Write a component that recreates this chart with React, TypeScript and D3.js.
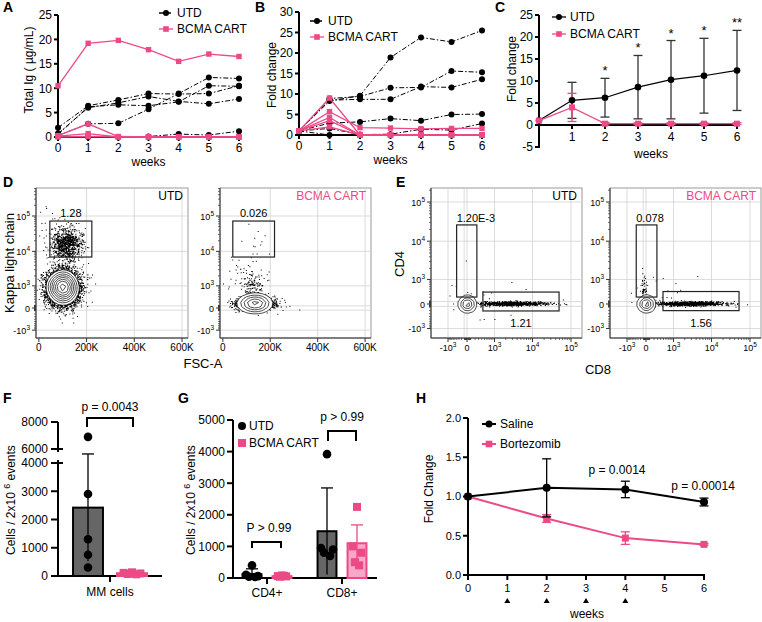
import React from 'react';
import * as d3 from 'd3';

const PINK = '#ec4a87';
const PINK_SOFT = '#f6a8c6';
const BAR_GRAY = '#666666';
const FONT = "'Liberation Sans', Arial, Helvetica, sans-serif";

const weeks = [0, 1, 2, 3, 4, 5, 6];

// A: total Ig (µg/mL), one row per mouse
const igUTD = [
  [1.9, 6.4, 7.6, 8.9, 8.8, 8.9, 10.5],
  [0.7, 6.0, 7.0, 8.3, 7.3, 6.8, 7.8],
  [0.5, 6.2, 6.6, 6.4, 7.2, 10.5, 10.4],
  [0.3, 2.7, 2.8, 5.7, 8.9, 12.2, 12.0],
  [0.2, 0.0, 0.0, 0.1, 0.6, 0.4, 1.2],
];
const igCART = [
  [10.5, 19.2, 19.8, 17.9, 15.5, 17.0, 16.5],
  [0.3, 2.7, 0.1, 0.0, 0.0, 0.0, 0.0],
  [0.2, 0.7, 0.0, 0.0, 0.0, 0.0, 0.0],
  [0.0, 0.1, 0.0, 0.0, 0.0, 0.0, 0.0],
];

// B: fold change per mouse
const foldUTD = [
  [1, 8.3, 9.6, 18.9, 23.8, 22.7, 25.5],
  [1, 8.9, 9.4, 11.5, 11.6, 15.6, 15.3],
  [1, 8.5, 8.7, 8.7, 11.8, 11.6, 13.6],
  [1, 2.9, 3.2, 4.0, 3.5, 5.0, 5.1],
  [1, 1.6, 0.1, 0.2, 1.4, 1.2, 2.8],
  [1, 0.0, 0.0, 0.0, 0.0, 0.0, 0.0],
];
const foldCART = [
  [1, 9.0, 0.0, 0.0, 0.0, 0.0, 0.0],
  [1, 5.7, 1.8, 1.7, 1.5, 1.6, 1.6],
  [1, 4.3, 0.0, 0.0, 0.0, 0.0, 0.0],
  [1, 3.5, 0.0, 0.0, 0.0, 0.0, 0.0],
  [1, 2.0, 0.0, 0.0, 0.0, 0.0, 0.0],
];

// C: mean +/- SD
const cMeanUTD = [1, 5.6, 6.2, 8.6, 10.3, 11.2, 12.4];
const cSdUTD = [0, 4.1, 4.4, 7.2, 8.9, 8.5, 9.1];
const cMeanCART = [1, 4.0, 0.3, 0.3, 0.3, 0.3, 0.3];
const cSdCART = [0, 3.2, 0.3, 0.2, 0.2, 0.2, 0.2];
const cStars = ['', '', '*', '*', '*', '*', '**'];

// D/E: flow gates and event clouds (centres in raw channel values, spreads in display units)
const biexTicks = [-1000, 0, 1000, 10000, 100000];
const fscTicks = [0, 200000, 400000, 600000];
const fscLabels = ['0', '200K', '400K', '600K'];
const dGateUTD = { x0: 46000, x1: 222000, y0: 6900, y1: 72000, label: '1.28' };
const dGateCART = { x0: 42000, x1: 218000, y0: 6900, y1: 72000, label: '0.026' };
const eGatesUTD = [
  { x0: -410, x1: 250, y0: 210, y1: 26000, label: '1.20E-3', pos: 'topleft' },
  { x0: 440, x1: 49000, y0: -210, y1: 380, label: '1.21', pos: 'bottom' },
];
const eGatesCART = [
  { x0: -380, x1: 280, y0: 210, y1: 26000, label: '0.078', pos: 'topleft' },
  { x0: 480, x1: 52000, y0: -200, y1: 400, label: '1.56', pos: 'bottom' },
];
const dCloudUTD = [
  { n: 4500, x: 100000, sx: 34000, y: 900, sy: 0.6 },
  { n: 800, x: 115000, sx: 33000, y: 16000, sy: 0.5 },
  { n: 60, x: 100000, sx: 45000, y: 40000, sy: 0.9 },
];
const dCloudCART = [
  { n: 1800, x: 135000, sx: 40000, y: 150, sy: 0.2 },
  { n: 170, x: 125000, sx: 28000, y: 800, sy: 0.5 },
  { n: 40, x: 80000, sx: 40000, y: 3000, sy: 0.9 },
  { n: 10, x: 140000, sx: 40000, y: 15000, sy: 0.6 },
];
const eCloudUTD = [
  { n: 1400, x: 0, sx: 0.16, y: 0, sy: 0.11 },
  { n: 900, x: 3000, sx: 1.0, y: 20, sy: 0.06 },
  { n: 25, x: 500, sx: 1.5, y: 300, sy: 0.8 },
];
const eCloudCART = [
  { n: 1400, x: 0, sx: 0.16, y: 0, sy: 0.11 },
  { n: 1100, x: 3000, sx: 1.0, y: 20, sy: 0.06 },
  { n: 50, x: -80, sx: 0.12, y: 500, sy: 0.4 },
  { n: 20, x: 500, sx: 1.5, y: 300, sy: 0.8 },
];

// F: MM cells per 2x10^6 events
const fGroups = ['UTD', 'BCMA CART'];
const fMeans = [2420, 100];
const fSd = [1900, 30];
const fPts = [[6900, 2900, 1300, 750, 300], [130, 110, 90, 70, 60]];

// G: CD4+/CD8+ per 2x10^6 events
const gGroups = ['CD4+', 'CD8+'];
const gArms = ['UTD', 'BCMA CART'];
const gMeans = [[120, 60], [1480, 1100]];
const gSd = [[170, 20], [1370, 580]];
const gPts = [
  [[400, 100, 60, 40, 30], [80, 60, 50, 40, 70]],
  [[3920, 950, 900, 800, 700], [2250, 1000, 800, 500, 400]],
];

// H: fold change, saline vs bortezomib
const hWeeks = [0, 2, 4, 6];
const hSaline = [1.0, 1.11, 1.09, 0.93];
const hSalineSd = [0, 0.37, 0.105, 0.05];
const hBort = [1.0, 0.72, 0.47, 0.39];
const hBortSd = [0, 0.05, 0.08, 0.012];
const hDoses = [1, 2, 3, 4];

const jit = [0, -6, 6, -3, 3];

const Letter = ({ x, y, t }: any) => (
  <text x={x} y={y} fontSize={14} fontWeight="bold">{t}</text>
);

function YAxis({ x, y, ticks, from, to, fmt = (v: number) => String(v), fs = 12, len = 4, sw = 2 }: any) {
  return (
    <g>
      <line x1={x} x2={x} y1={from} y2={to} stroke="#000" strokeWidth={sw} />
      {ticks.map((t: number) => (
        <g key={t}>
          <line x1={x - len} x2={x} y1={y(t)} y2={y(t)} stroke="#000" strokeWidth={sw} />
          <text x={x - len - 2} y={y(t)} dy="0.36em" textAnchor="end" fontSize={fs}>{fmt(t)}</text>
        </g>
      ))}
    </g>
  );
}

function XAxis({ y, x, ticks, from, to, labelY, fmt = (v: number) => String(v), fs = 12, len = 4, sw = 2 }: any) {
  return (
    <g>
      <line x1={from} x2={to} y1={y} y2={y} stroke="#000" strokeWidth={sw} />
      {ticks.map((t: number) => (
        <g key={t}>
          <line x1={x(t)} x2={x(t)} y1={y} y2={y + len} stroke="#000" strokeWidth={sw} />
          <text x={x(t)} y={labelY} textAnchor="middle" fontSize={fs}>{fmt(t)}</text>
        </g>
      ))}
    </g>
  );
}

function LegendItem({ x, y, color, shape, label, dash, sw = 1.3, r = 3 }: any) {
  return (
    <g>
      <line x1={x} x2={x + 14} y1={y} y2={y} stroke={color} strokeWidth={sw} strokeDasharray={dash} />
      {shape === 'circle'
        ? <circle cx={x + 7} cy={y} r={r} fill={color} />
        : <rect x={x + 7 - r} y={y - r} width={2 * r} height={2 * r} fill={color} />}
      <text x={x + 18} y={y} dy="0.36em" fontSize={12}>{label}</text>
    </g>
  );
}

function Spaghetti({ letter, lx, xr, yr, yMax, yTicks, utd, cart, yLabel, ylx, yly, legX, legY }: any) {
  const x = d3.scaleLinear([0, 6], xr);
  const y = d3.scaleLinear([0, yMax], yr);
  const line = d3.line<number>().x((_, i) => x(weeks[i])).y(d => y(d));
  return (
    <g>
      <Letter x={lx} y={12} t={letter} />
      <YAxis x={xr[0]} y={y} ticks={yTicks} from={yr[0] + 1} to={yr[1]} />
      <XAxis y={yr[0]} x={x} ticks={weeks} from={xr[0]} to={xr[1] + 1} labelY={yr[0] + 15} />
      <text x={(xr[0] + xr[1]) / 2} y={yr[0] + 29} textAnchor="middle" fontSize={12}>weeks</text>
      <text transform={`translate(${ylx},${yly}) rotate(-90)`} textAnchor="middle" fontSize={12}>{yLabel}</text>
      {utd.map((s: number[], k: number) => (
        <g key={'u' + k}>
          <path d={line(s)!} fill="none" stroke="#000" strokeWidth={1} strokeDasharray="5,2,1.5,2" />
          {s.map((v, i) => <circle key={i} cx={x(weeks[i])} cy={y(v)} r={3} fill="#000" />)}
        </g>
      ))}
      {cart.map((s: number[], k: number) => (
        <g key={'c' + k}>
          <path d={line(s)!} fill="none" stroke={PINK} strokeWidth={1.3} />
          {s.map((v, i) => <rect key={i} x={x(weeks[i]) - 2.7} y={y(v) - 2.7} width={5.4} height={5.4} fill={PINK} />)}
        </g>
      ))}
      <LegendItem x={legX} y={legY} color="#000" shape="circle" label="UTD" dash="5,2" />
      <LegendItem x={legX} y={legY + 16} color={PINK} shape="square" label="BCMA CART" r={2.8} />
    </g>
  );
}

function PanelC() {
  const x = d3.scaleLinear([0, 6], [539, 737]);
  const y = d3.scaleLinear([-5, 25], [147, 15]);
  const line = d3.line<number>().x((_, i) => x(weeks[i])).y(d => y(d));
  const errs = (m: number[], s: number[], color: string) =>
    m.map((v, i) => s[i] > 0 && (
      <g key={i} stroke={color} strokeWidth={1.3}>
        <line x1={x(weeks[i])} x2={x(weeks[i])} y1={y(v - s[i])} y2={y(v + s[i])} />
        <line x1={x(weeks[i]) - 4.5} x2={x(weeks[i]) + 4.5} y1={y(v + s[i])} y2={y(v + s[i])} />
        <line x1={x(weeks[i]) - 4.5} x2={x(weeks[i]) + 4.5} y1={y(v - s[i])} y2={y(v - s[i])} />
      </g>
    ));
  return (
    <g>
      <Letter x={495} y={12} t="C" />
      <YAxis x={539} y={y} ticks={[-5, 0, 5, 10, 15, 20, 25]} from={y(-5) + 1} to={y(25)} />
      <XAxis y={y(0)} x={x} ticks={[1, 2, 3, 4, 5, 6]} from={539} to={738} labelY={y(0) + 16} />
      <text x={651} y={158} textAnchor="middle" fontSize={12}>weeks</text>
      <text transform="translate(516,69) rotate(-90)" textAnchor="middle" fontSize={12}>Fold change</text>
      {errs(cMeanUTD, cSdUTD, '#333')}
      {errs(cMeanCART, cSdCART, PINK)}
      <path d={line(cMeanUTD)!} fill="none" stroke="#000" strokeWidth={1.2} />
      {cMeanUTD.map((v, i) => <circle key={i} cx={x(weeks[i])} cy={y(v)} r={3.3} fill="#000" />)}
      <path d={line(cMeanCART)!} fill="none" stroke={PINK} strokeWidth={1.3} />
      {cMeanCART.map((v, i) => <rect key={i} x={x(weeks[i]) - 3} y={y(v) - 3} width={6} height={6} fill={PINK} />)}
      {cStars.map((s, i) => s && (
        <text key={i} x={x(weeks[i])} y={y(cMeanUTD[i] + cSdUTD[i]) - 3} textAnchor="middle" fontSize={13}>{s}</text>
      ))}
      <LegendItem x={552} y={17} color="#000" shape="circle" label="UTD" />
      <LegendItem x={552} y={34} color={PINK} shape="square" label="BCMA CART" r={2.8} />
    </g>
  );
}

// ---------- flow plots ----------
function makeCloud(spec: any[], tx: (v: number) => number, ty: (v: number) => number, seed: number) {
  const src = d3.randomLcg(seed);
  return spec.map(c => {
    const gx = d3.randomNormal.source(src)(tx(c.x), c.sx);
    const gy = d3.randomNormal.source(src)(ty(c.y), c.sy);
    return d3.range(c.n).map(() => [gx(), gy()] as [number, number]);
  });
}

const Pow = ({ v }: any) => v === 0 ? <>0</> : (
  <>{v < 0 ? '-' : ''}10<tspan dy={-4} fontSize={6.5}>{Math.round(Math.log10(Math.abs(v)))}</tspan></>
);

function minorBiex() {
  const out: number[] = [];
  for (let e = 1; e <= 5; e++) for (let m = 2; m <= 9; m++) out.push(m * 10 ** e);
  for (let e = 1; e <= 2; e++) for (let m = 2; m <= 9; m++) out.push(-m * 10 ** e);
  return out;
}

function FlowPlot({ id, L, R, T, B, tx, sx, ty, sy, xTicks, xLabels, xBiex, gridX, gridY, cloud, seed, bw, frac, levels, gates, title, titleColor }: any) {
  const px = (v: number) => sx(tx(v));
  const py = (v: number) => sy(ty(v));
  const pops = makeCloud(cloud, tx, ty, seed);
  const dots = pops.flat().map(([u, v]) => `M${sx(u).toFixed(1)},${sy(v).toFixed(1)}h1v1h-1z`).join('');
  const main = pops[0].map(([u, v]) => [sx(u) - L, sy(v) - T] as [number, number]);
  const density = d3.contourDensity<[number, number]>()
    .x(p => p[0]).y(p => p[1]).size([R - L, B - T]).bandwidth(bw);
  const probe = density.thresholds(60)(main);
  const maxV = d3.max(probe, c => c.value) || 1;
  const kept = density.thresholds(d3.range(levels).map(i => maxV * (frac + (0.95 - frac) * i / (levels - 1))))(main);
  const geo = d3.geoPath();
  const minors = minorBiex();
  return (
    <g>
      <defs><clipPath id={id}><rect x={L} y={T} width={R - L} height={B - T} /></clipPath></defs>
      <rect x={L} y={T} width={R - L} height={B - T} fill="#fff" stroke="#999" strokeWidth={1} />
      {gridX.map((v: number) => <line key={'gx' + v} x1={px(v)} x2={px(v)} y1={T} y2={B} stroke="#d2d2d2" strokeWidth={0.8} />)}
      {gridY.map((v: number) => <line key={'gy' + v} x1={L} x2={R} y1={py(v)} y2={py(v)} stroke="#d2d2d2" strokeWidth={0.8} />)}
      <g clipPath={`url(#${id})`}>
        <path d={dots} fill="#000" />
        <g transform={`translate(${L},${T})`}>
          {kept.map((c, i) => (
            <path key={i} d={geo(c as any)!} fill={i === 0 ? '#fff' : 'none'} stroke="#000" strokeWidth={0.7} />
          ))}
        </g>
      </g>
      {gates.map((g: any, i: number) => {
        const x0 = px(g.x0), x1 = px(g.x1), y0 = py(g.y1), y1 = py(g.y0);
        return (
          <g key={i}>
            <rect x={x0} y={y0} width={x1 - x0} height={y1 - y0} fill="none" stroke="#222" strokeWidth={1.2} />
            {g.pos === 'bottom'
              ? <text x={(x0 + x1) / 2} y={y1 + 16} textAnchor="middle" fontSize={11}>{g.label}</text>
              : g.pos === 'topleft'
                ? <text x={x0} y={y0 - 3} fontSize={11}>{g.label}</text>
                : <text x={(x0 + x1) / 2} y={y0 - 4} textAnchor="middle" fontSize={11}>{g.label}</text>}
          </g>
        );
      })}
      <text x={R - 5} y={T + 12} textAnchor="end" fontSize={12} fill={titleColor}>{title}</text>
      {/* left axis */}
      <line x1={L} x2={L} y1={T} y2={B} stroke="#333" strokeWidth={1} />
      {minors.filter(v => py(v) > T && py(v) < B).map(v => (
        <line key={'my' + v} x1={L - 2} x2={L} y1={py(v)} y2={py(v)} stroke="#333" strokeWidth={0.7} />
      ))}
      {biexTicks.map(v => (
        <g key={'y' + v}>
          <line x1={L - 4} x2={L} y1={py(v)} y2={py(v)} stroke="#333" strokeWidth={1} />
          <text x={L - 6} y={py(v) + 3.5} textAnchor="end" fontSize={9}><Pow v={v} /></text>
        </g>
      ))}
      {/* bottom axis */}
      <line x1={L} x2={R} y1={B} y2={B} stroke="#333" strokeWidth={1} />
      {xBiex && minors.filter(v => px(v) > L && px(v) < R).map(v => (
        <line key={'mx' + v} x1={px(v)} x2={px(v)} y1={B} y2={B + 2} stroke="#333" strokeWidth={0.7} />
      ))}
      {xTicks.map((v: number, i: number) => (
        <g key={'x' + v}>
          <line x1={px(v)} x2={px(v)} y1={B} y2={B + 4} stroke="#333" strokeWidth={1} />
          <text x={px(v)} y={B + 13} textAnchor="middle" fontSize={xBiex ? 9 : 10}>
            {xBiex ? <Pow v={v} /> : xLabels[i]}
          </text>
        </g>
      ))}
    </g>
  );
}

function PanelD() {
  const tx = (v: number) => v;
  const ty = (v: number) => Math.asinh(v / 500);
  const sy = d3.scaleLinear([0, ty(1e5)], [308, 216]);
  const common = { T: 188, B: 338, tx, ty, sy, xTicks: fscTicks, xLabels: fscLabels, xBiex: false, bw: 3,
    gridX: [200000, 400000, 600000], gridY: [-1000, -70, 70, 1000, 10000, 100000] };
  return (
    <g>
      <Letter x={3} y={187} t="D" />
      <FlowPlot id="d1" L={36} R={188} sx={d3.scaleLinear([-12000, 625000], [36, 188])} {...common}
        cloud={dCloudUTD} seed={0.11} frac={0.25} levels={8} gates={[dGateUTD]} title="UTD" titleColor="#000" />
      <FlowPlot id="d2" L={220} R={371} sx={d3.scaleLinear([-12000, 625000], [220, 371])} {...common}
        cloud={dCloudCART} seed={0.37} frac={0.25} levels={5} gates={[dGateCART]} title="BCMA CART" titleColor={PINK} />
      <text transform="translate(14,263) rotate(-90)" textAnchor="middle" fontSize={13}>Kappa light chain</text>
      <text x={203} y={368} textAnchor="middle" fontSize={13}>FSC-A</text>
    </g>
  );
}

function PanelE() {
  const tx = (v: number) => Math.asinh(v / 400);
  const ty = (v: number) => Math.asinh(v / 500);
  const sy = d3.scaleLinear([0, ty(1e5)], [304, 202]);
  const sx1 = d3.scaleLinear([tx(-1000), 0, tx(1e5)], [448, 467, 571]);
  const sx2 = d3.scaleLinear([tx(-1000), 0, tx(1e5)], [627, 646, 750]);
  const common = { T: 188, B: 338, tx, ty, sy, xTicks: biexTicks, xLabels: [], xBiex: true, bw: 1.8, frac: 0.2, levels: 4,
    gridX: [-1000, -100, 0, 1000, 10000, 100000], gridY: [-1000, -70, 70, 1000, 10000, 100000] };
  return (
    <g>
      <Letter x={396} y={187} t="E" />
      <FlowPlot id="e1" L={431} R={582} sx={sx1} {...common}
        cloud={eCloudUTD} seed={0.53} gates={eGatesUTD} title="UTD" titleColor="#000" />
      <FlowPlot id="e2" L={610} R={761} sx={sx2} {...common}
        cloud={eCloudCART} seed={0.71} gates={eGatesCART} title="BCMA CART" titleColor={PINK} />
      <text transform="translate(404,264) rotate(-90)" textAnchor="middle" fontSize={13}>CD4</text>
      <text x={598} y={374} textAnchor="middle" fontSize={13}>CD8</text>
    </g>
  );
}

const CellsLabel = ({ x }: any) => (
  <text transform={`translate(${x},500) rotate(-90)`} textAnchor="middle" fontSize={12}>
    Cells / 2x10 <tspan dy={-5} fontSize={9}>6</tspan><tspan dy={5}> events</tspan>
  </text>
);

function PanelF() {
  const yLo = d3.scaleLinear([0, 4000], [576, 463]);
  const yHi = d3.scaleLinear([6000, 8000], [449, 422]);
  const y = (v: number) => (v > 5000 ? yHi(v) : yLo(v));
  const band = d3.scaleBand(fGroups, [66, 154]).paddingInner(0.32).paddingOuter(0.16);
  const bw = band.bandwidth();
  return (
    <g>
      <Letter x={3} y={403} t="F" />
      <CellsLabel x={15} />
      {/* broken y axis */}
      <line x1={58} x2={58} y1={577} y2={yLo(4000) - 3} stroke="#000" strokeWidth={2} />
      <line x1={58} x2={58} y1={yHi(6000) + 3} y2={yHi(8000)} stroke="#000" strokeWidth={2} />
      {[0, 1000, 2000, 3000, 4000].map(t => (
        <g key={t}>
          <line x1={51} x2={t === 4000 ? 63 : 58} y1={yLo(t)} y2={yLo(t)} stroke="#000" strokeWidth={2} />
          <text x={48} y={yLo(t)} dy="0.36em" textAnchor="end" fontSize={12}>{t}</text>
        </g>
      ))}
      {[6000, 8000].map(t => (
        <g key={t}>
          <line x1={51} x2={t === 6000 ? 63 : 58} y1={yHi(t)} y2={yHi(t)} stroke="#000" strokeWidth={2} />
          <text x={48} y={yHi(t)} dy="0.36em" textAnchor="end" fontSize={12}>{t}</text>
        </g>
      ))}
      <line x1={57} x2={162} y1={576} y2={576} stroke="#000" strokeWidth={2} />
      <line x1={110} x2={110} y1={576} y2={582} stroke="#000" strokeWidth={2} />
      <text x={110} y={596} textAnchor="middle" fontSize={12}>MM cells</text>
      {/* bars */}
      <rect x={band('UTD')!} y={y(fMeans[0])} width={bw} height={576 - y(fMeans[0])} fill={BAR_GRAY} stroke="#000" strokeWidth={2} />
      <rect x={band('BCMA CART')!} y={y(fMeans[1])} width={bw} height={576 - y(fMeans[1])} fill={PINK} stroke={PINK} strokeWidth={2} />
      {fGroups.map((g, i) => {
        const cx = band(g)! + bw / 2;
        const c = i === 0 ? '#000' : PINK;
        return (
          <g key={g} stroke={c} strokeWidth={1.3}>
            <line x1={cx} x2={cx} y1={y(fMeans[i] - fSd[i])} y2={y(fMeans[i] + fSd[i])} />
            <line x1={cx - 6} x2={cx + 6} y1={y(fMeans[i] + fSd[i])} y2={y(fMeans[i] + fSd[i])} />
          </g>
        );
      })}
      {fPts[0].map((v, i) => <circle key={i} cx={band('UTD')! + bw / 2} cy={y(v)} r={4.3} fill="#000" />)}
      {fPts[1].map((v, i) => <rect key={i} x={band('BCMA CART')! + bw / 2 + jit[i] * 1.4 - 4} y={y(v) - 4} width={8} height={8} fill={PINK} />)}
      {/* significance */}
      <path d="M87,427V418H133V427" fill="none" stroke="#000" strokeWidth={2} />
      <text x={110} y={411} textAnchor="middle" fontSize={12}>p = 0.0043</text>
    </g>
  );
}

function PanelG() {
  const y = d3.scaleLinear([0, 5000], [578, 420]);
  const outer = d3.scaleBand(gGroups, [229.5, 379.5]);
  const inner = d3.scaleBand(gArms, [0, outer.bandwidth()]).paddingInner(0.37).paddingOuter(0.435);
  const bw = inner.bandwidth();
  return (
    <g>
      <Letter x={178} y={403} t="G" />
      <CellsLabel x={195} />
      <YAxis x={233} y={y} ticks={[0, 1000, 2000, 3000, 4000, 5000]} from={579} to={y(5000)} len={6} />
      <line x1={232} x2={377} y1={578} y2={578} stroke="#000" strokeWidth={2} />
      {gGroups.map(g => (
        <g key={g}>
          <line x1={outer(g)! + outer.bandwidth() / 2} x2={outer(g)! + outer.bandwidth() / 2} y1={578} y2={584} stroke="#000" strokeWidth={2} />
          <text x={outer(g)! + outer.bandwidth() / 2} y={597} textAnchor="middle" fontSize={12}>{g}</text>
        </g>
      ))}
      {gGroups.map((g, gi) => gArms.map((a, ai) => {
        const x0 = outer(g)! + inner(a)!;
        const cx = x0 + bw / 2;
        const m = gMeans[gi][ai], s = gSd[gi][ai];
        const isU = ai === 0;
        return (
          <g key={g + a}>
            <rect x={x0} y={y(m)} width={bw} height={578 - y(m)}
              fill={isU ? BAR_GRAY : (gi === 1 ? PINK_SOFT : PINK)} stroke={isU ? '#000' : PINK} strokeWidth={2} />
            <g stroke={isU ? '#000' : PINK} strokeWidth={1.3}>
              <line x1={cx} x2={cx} y1={y(Math.max(0, m - s))} y2={y(m + s)} />
              <line x1={cx - 6} x2={cx + 6} y1={y(m + s)} y2={y(m + s)} />
            </g>
            {gPts[gi][ai].map((v, i) => isU
              ? <circle key={i} cx={cx + jit[i]} cy={y(v)} r={4.3} fill="#000" />
              : <rect key={i} x={cx + jit[i] * 0.7 - 4} y={y(v) - 4} width={8} height={8} fill={PINK} />)}
          </g>
        );
      }))}
      {/* legend */}
      <circle cx={242} cy={426} r={4} fill="#000" />
      <text x={249} y={426} dy="0.36em" fontSize={12}>UTD</text>
      <rect x={238} y={439} width={8} height={8} fill={PINK} />
      <text x={249} y={443} dy="0.36em" fontSize={12}>BCMA CART</text>
      {/* significance */}
      <path d="M252,548V542H281V548" fill="none" stroke="#000" strokeWidth={2} />
      <text x={269} y={532} textAnchor="middle" fontSize={12}>P &gt; 0.99</text>
      <path d="M328,441V431H356V441" fill="none" stroke="#000" strokeWidth={2} />
      <text x={342} y={421} textAnchor="middle" fontSize={12}>p &gt; 0.99</text>
    </g>
  );
}

function PanelH() {
  const x = d3.scaleLinear([0, 6], [468, 704]);
  const y = d3.scaleLinear([0, 2], [575, 418]);
  const line = d3.line<number>().x((_, i) => x(hWeeks[i])).y(d => y(d));
  const errs = (m: number[], s: number[], color: string) => m.map((v, i) => s[i] > 0 && (
    <g key={i} stroke={color} strokeWidth={1.3}>
      <line x1={x(hWeeks[i])} x2={x(hWeeks[i])} y1={y(v - s[i])} y2={y(v + s[i])} />
      <line x1={x(hWeeks[i]) - 4.5} x2={x(hWeeks[i]) + 4.5} y1={y(v + s[i])} y2={y(v + s[i])} />
      <line x1={x(hWeeks[i]) - 4.5} x2={x(hWeeks[i]) + 4.5} y1={y(v - s[i])} y2={y(v - s[i])} />
    </g>
  ));
  return (
    <g>
      <Letter x={416} y={403} t="H" />
      <YAxis x={468} y={y} ticks={[0, 0.5, 1, 1.5, 2]} from={576} to={y(2)} fmt={d3.format('.1f')} fs={11} len={5} />
      <XAxis y={575} x={x} ticks={weeks} from={467} to={705} labelY={592} fs={11} len={5} />
      {hDoses.map(d => <path key={d} d={`M${x(d)},598l3,5h-6z`} fill="#000" />)}
      <text x={587} y={618} textAnchor="middle" fontSize={12}>weeks</text>
      <text transform="translate(433,489) rotate(-90)" textAnchor="middle" fontSize={12}>Fold  Change</text>
      {errs(hBort, hBortSd, PINK)}
      <path d={line(hBort)!} fill="none" stroke={PINK} strokeWidth={2} />
      {hBort.map((v, i) => <rect key={i} x={x(hWeeks[i]) - 3.5} y={y(v) - 3.5} width={7} height={7} fill={PINK} />)}
      {errs(hSaline, hSalineSd, '#000')}
      <path d={line(hSaline)!} fill="none" stroke="#000" strokeWidth={2} />
      {hSaline.map((v, i) => <circle key={i} cx={x(hWeeks[i])} cy={y(v)} r={4} fill="#000" />)}
      <text x={617} y={474} textAnchor="middle" fontSize={12}>p = 0.0014</text>
      <text x={703} y={490} textAnchor="middle" fontSize={12}>p = 0.00014</text>
      <LegendItem x={482} y={424} color="#000" shape="circle" label="Saline" sw={2} r={3.5} />
      <LegendItem x={482} y={444} color={PINK} shape="square" label="Bortezomib" sw={2} r={3.3} />
    </g>
  );
}

export default function App() {
  return (
    <svg width={762} height={622} style={{ position: 'absolute', left: 0, top: 0 }} fontFamily={FONT}>
      <rect width={762} height={622} fill="#fff" />
      <Spaghetti letter="A" lx={3} xr={[58, 239]} yr={[137, 15]} yMax={25} yTicks={[0, 5, 10, 15, 20, 25]}
        utd={igUTD} cart={igCART} yLabel="Total Ig ( µg/mL)" ylx={33} yly={70} legX={159} legY={13} />
      <Spaghetti letter="B" lx={255} xr={[299, 482]} yr={[135, 12]} yMax={30} yTicks={[0, 5, 10, 15, 20, 25, 30]}
        utd={foldUTD} cart={foldCART} yLabel="Fold change" ylx={276} yly={75} legX={310} legY={21} />
      <PanelC />
      <PanelD />
      <PanelE />
      <PanelF />
      <PanelG />
      <PanelH />
    </svg>
  );
}
